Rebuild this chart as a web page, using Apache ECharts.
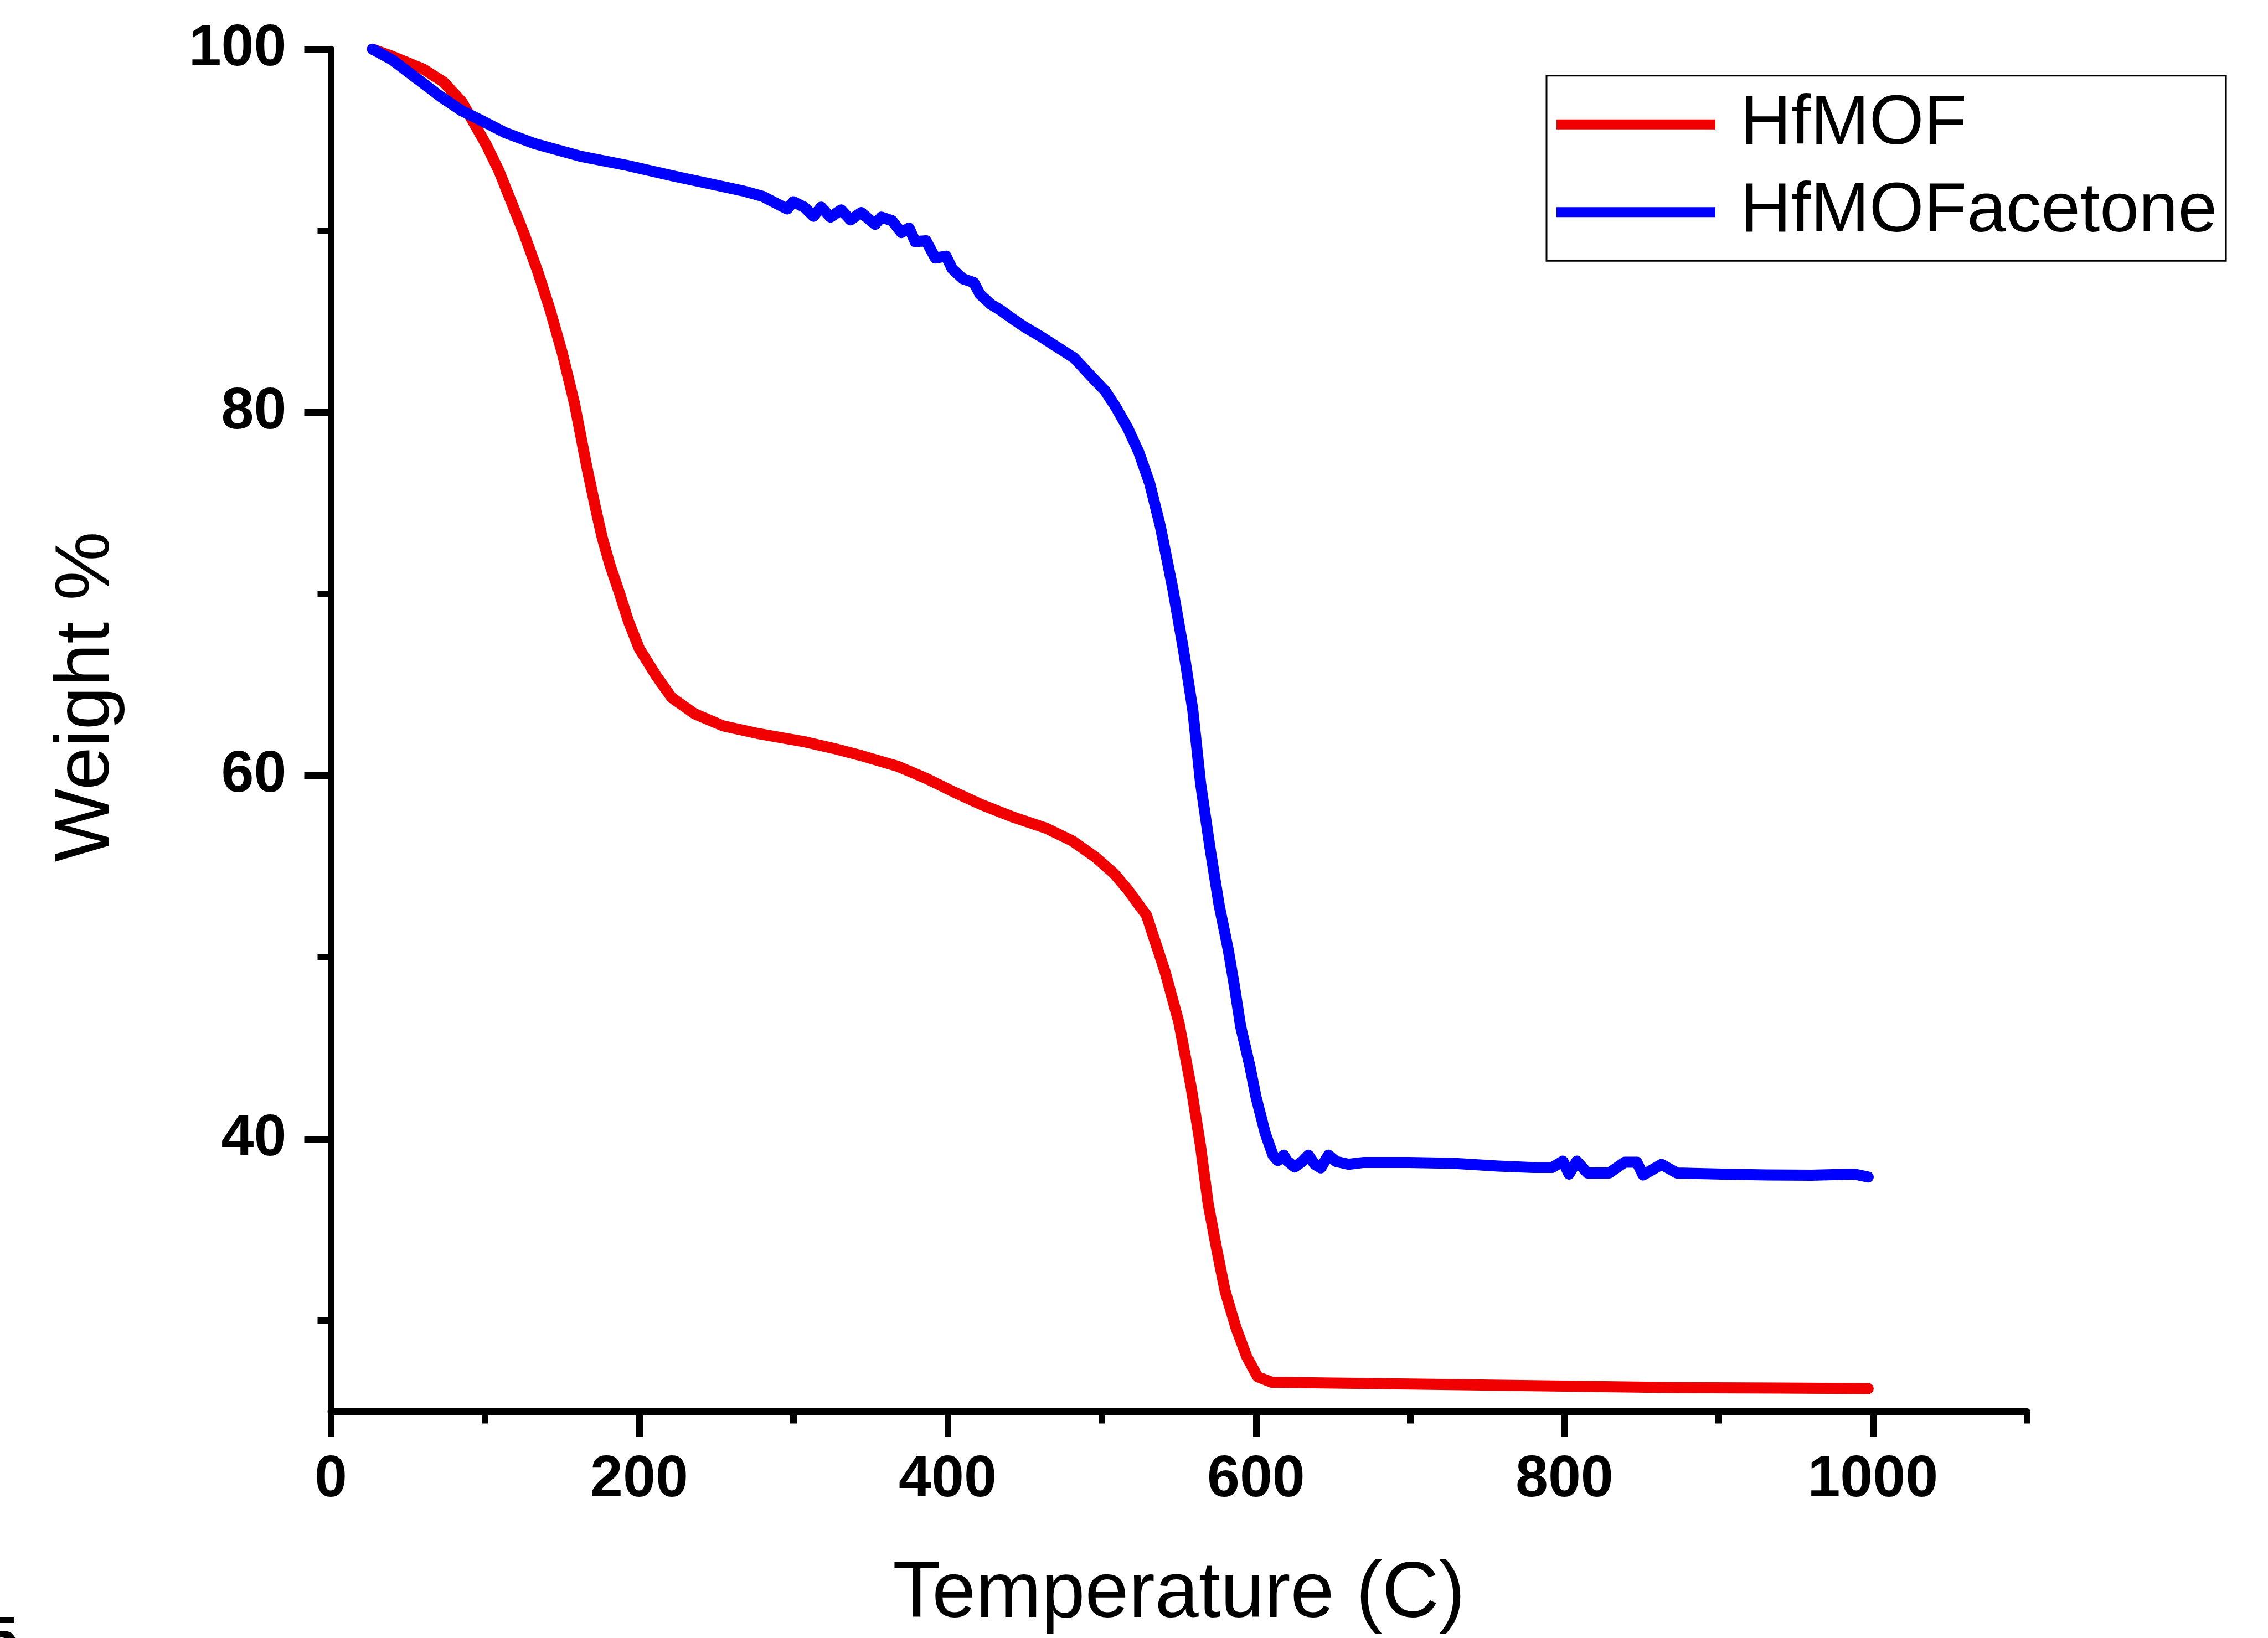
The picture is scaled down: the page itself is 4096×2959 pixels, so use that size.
<!DOCTYPE html>
<html>
<head>
<meta charset="utf-8">
<script src="https://cdn.jsdelivr.net/npm/echarts@6/dist/echarts.min.js"></script>
<style>
  html, body { margin: 0; padding: 0; background: #ffffff; }
  #chart { width: 4096px; height: 2959px; }
</style>
</head>
<body>
<div id="chart"></div>
<script>
// TGA curves: temperature (°C) and remaining weight (%)
const seriesNames = ['HfMOF', 'HfMOFacetone'];

const tempHfMOF = [27, 40, 60, 73, 85, 93, 101, 109, 117, 125, 134, 142, 150, 158, 166, 172, 176, 181, 187, 193,
  200, 211, 221, 236, 254, 278, 308, 326, 344, 368, 386, 404, 422, 443, 464, 481, 496, 508, 517, 529,
  541, 550, 558, 564, 569, 575, 580, 587, 594, 601, 610, 650, 700, 786, 873, 940, 997];
const weightHfMOF = [100.0, 99.6, 98.9, 98.2, 97.1, 95.9, 94.7, 93.3, 91.6, 89.9, 87.8, 85.7, 83.3, 80.5, 77.0, 74.6, 73.1, 71.6, 70.1, 68.5,
  67.0, 65.5, 64.3, 63.4, 62.75, 62.3, 61.85, 61.5, 61.1, 60.5, 59.85, 59.1, 58.4, 57.7, 57.1, 56.4, 55.5, 54.6, 53.7, 52.3,
  49.2, 46.4, 42.8, 39.6, 36.4, 33.7, 31.6, 29.6, 28.0, 26.9, 26.6, 26.55, 26.5, 26.4, 26.3, 26.28, 26.25];

const tempAcetone = [27, 40, 57, 71, 85, 97, 113, 132, 162, 192, 223, 245, 267, 280, 289, 296, 300, 307, 313, 318,
  324, 331, 337, 344, 353, 357, 364, 370, 375, 379, 386, 392, 399, 403, 410, 417, 421, 428, 434, 443,
  450, 460, 471, 482, 493, 502, 509, 517, 524, 531, 538, 546, 553, 559, 564, 570, 576, 582, 586, 590,
  596, 600, 606, 611, 614, 618, 620, 625, 630, 634, 638, 642, 647, 652, 660, 670, 699, 728, 757, 780,
  792, 799, 803, 808, 815, 829, 839, 847, 851, 863, 873, 902, 931, 960, 988, 997];
const weightAcetone = [100.0, 99.4, 98.3, 97.4, 96.6, 96.1, 95.4, 94.8, 94.1, 93.6, 93.0, 92.6, 92.2, 91.9, 91.5, 91.2, 91.6, 91.3, 90.8, 91.3,
  90.75, 91.15, 90.6, 91.0, 90.35, 90.75, 90.55, 89.9, 90.15, 89.4, 89.45, 88.5, 88.6, 87.9, 87.35, 87.15, 86.5, 85.95, 85.65, 85.1,
  84.7, 84.2, 83.6, 83.0, 82.0, 81.2, 80.3, 79.1, 77.8, 76.1, 73.7, 70.3, 66.9, 63.6, 59.6, 56.1, 52.9, 50.4, 48.4, 46.2,
  44.0, 42.3, 40.3, 39.1, 38.8, 39.1, 38.8, 38.45, 38.75, 39.1, 38.6, 38.4, 39.1, 38.75, 38.6, 38.7, 38.7, 38.65, 38.5, 38.42,
  38.42, 38.77, 38.06, 38.77, 38.12, 38.12, 38.71, 38.71, 38.01, 38.59, 38.12, 38.06, 38.01, 38.0, 38.06, 37.9];

// Axis ticks: labelled major ticks and shorter unlabelled minor ticks
const xMajorTicks = [0, 200, 400, 600, 800, 1000];
const xMinorTicks = [100, 300, 500, 700, 900, 1100];
const yMajorTicks = [40, 60, 80, 100];
const yMinorTicks = [30, 50, 70, 90];

const FONT = '"Liberation Sans", Arial, Helvetica, sans-serif';
const gridRect = { left: 597.5, top: 88.8, right: 435.2, bottom: 409.6 };

const zip = (xs, ys) => xs.map((x, i) => [x, ys[i]]);
const plain = (v) => String(v);

const tickLabel = {
  fontSize: 106, fontWeight: 'bold', fontFamily: FONT, color: '#000', lineHeight: 106, formatter: plain
};

const chart = echarts.init(document.getElementById('chart'), null, { renderer: 'canvas' });

chart.setOption({
  animation: false,
  backgroundColor: '#ffffff',
  grid: [
    Object.assign({ containLabel: false }, gridRect),
    Object.assign({ containLabel: false }, gridRect)
  ],
  xAxis: [
    {
      type: 'value', gridIndex: 0, min: 0, max: 1100, interval: 100,
      axisLine: { show: true, onZero: false, lineStyle: { color: '#000', width: 12 } },
      axisTick: { show: true, customValues: xMajorTicks, length: 46, lineStyle: { color: '#000', width: 12 } },
      axisLabel: Object.assign({ customValues: xMajorTicks, margin: 71 }, tickLabel),
      splitLine: { show: false },
      name: 'Temperature (C)', nameLocation: 'middle', nameGap: 332,
      nameTextStyle: { fontSize: 142, fontFamily: FONT, color: '#000', verticalAlign: 'middle', lineHeight: 142 }
    },
    {
      type: 'value', gridIndex: 1, min: 0, max: 1100, interval: 100,
      axisLine: { show: false },
      axisTick: { show: true, customValues: xMinorTicks, length: 22, lineStyle: { color: '#000', width: 12 } },
      axisLabel: { show: false },
      splitLine: { show: false }
    }
  ],
  yAxis: [
    {
      type: 'value', gridIndex: 0, min: 25, max: 100, interval: 5,
      axisLine: { show: true, onZero: false, lineStyle: { color: '#000', width: 12 } },
      axisTick: { show: true, customValues: yMajorTicks, length: 48, lineStyle: { color: '#000', width: 12 } },
      axisLabel: Object.assign({ customValues: yMajorTicks, margin: 80 }, tickLabel),
      splitLine: { show: false },
      name: 'Weight %', nameLocation: 'middle', nameGap: 440, nameRotate: 90,
      nameTextStyle: { fontSize: 140, fontFamily: FONT, color: '#000', verticalAlign: 'middle', lineHeight: 140, padding: [0, 0, 0, 121] }
    },
    {
      type: 'value', gridIndex: 1, min: 25, max: 100, interval: 5,
      axisLine: { show: false },
      axisTick: { show: true, customValues: yMinorTicks, length: 24, lineStyle: { color: '#000', width: 12 } },
      axisLabel: { show: false },
      splitLine: { show: false }
    }
  ],
  legend: {
    orient: 'vertical',
    left: 2793, top: 136.7,
    data: seriesNames,
    icon: 'rect',
    itemWidth: 287, itemHeight: 18, itemGap: 21.5,
    itemStyle: { borderWidth: 0 },
    textStyle: { fontSize: 127, fontFamily: FONT, color: '#000', lineHeight: 127, padding: [10, 0, 0, 40] },
    borderColor: '#000', borderWidth: 3, borderRadius: 0,
    backgroundColor: '#ffffff',
    padding: [19.5, 16, 19.5, 18]
  },
  graphic: [
    {
      // fragment of a neighbouring label at the lower-left edge
      type: 'text', left: -27, top: 2965 - 53.5, silent: true,
      style: { text: '5', fontSize: 107, fontWeight: 'bold', fontFamily: FONT, fill: '#000' }
    }
  ],
  series: [
    {
      name: seriesNames[0], type: 'line', xAxisIndex: 0, yAxisIndex: 0,
      data: zip(tempHfMOF, weightHfMOF),
      showSymbol: false, symbol: 'none', smooth: false,
      itemStyle: { color: '#f00000' },
      lineStyle: { color: '#f00000', width: 20, cap: 'round', join: 'round' }
    },
    {
      name: seriesNames[1], type: 'line', xAxisIndex: 0, yAxisIndex: 0,
      data: zip(tempAcetone, weightAcetone),
      showSymbol: false, symbol: 'none', smooth: false,
      itemStyle: { color: '#0000ff' },
      lineStyle: { color: '#0000ff', width: 20, cap: 'round', join: 'round' }
    }
  ]
});
</script>
</body>
</html>
